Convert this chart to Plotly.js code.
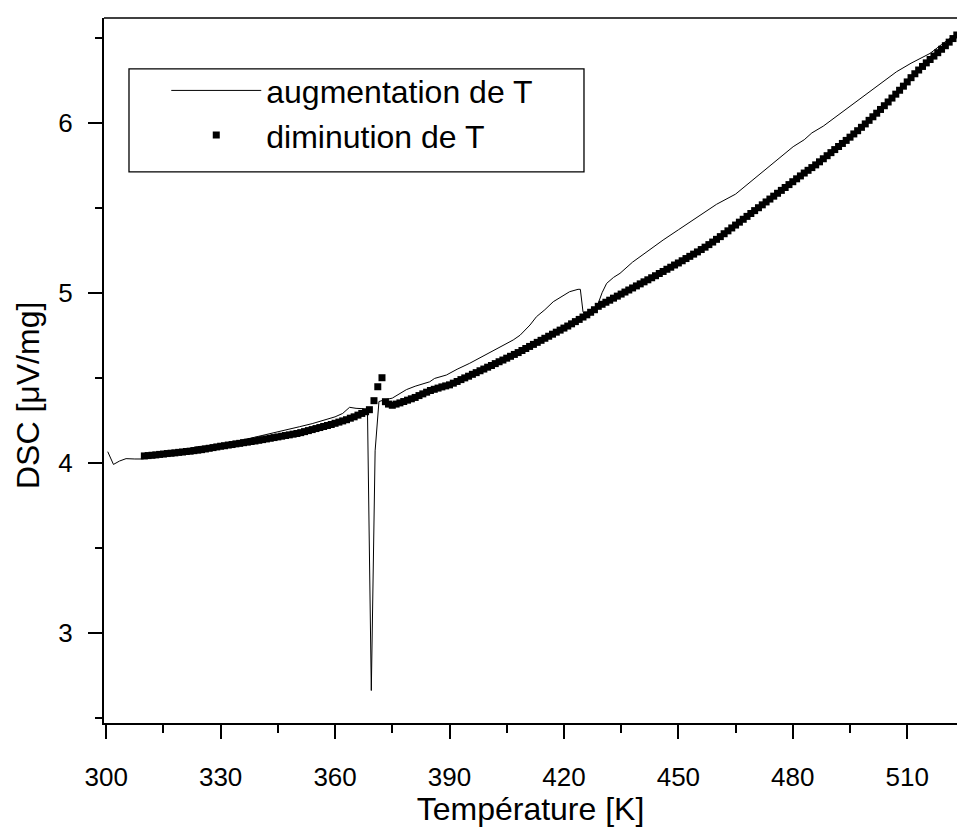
<!DOCTYPE html>
<html>
<head>
<meta charset="utf-8">
<script src="https://cdn.plot.ly/plotly-3.0.1.min.js"></script>
<style>html,body{margin:0;padding:0;background:#fff;overflow:hidden;}</style>
</head>
<body>
<div id="chart" style="width:957px;height:827px;"></div>
<script>
// Heating curve (augmentation de T)
const tempUp = [300.4,301.9,303.5,305.2,307.5,309.6,312,315,318.4,321,324,327,330,333,337.6,341,345,348,350.7,354,357,360,362,363.8,365.5,367.3,368.5,369.5,370.5,371.5,373,375,378.7,381,384.8,386.1,389.2,392,395.3,399,402.3,406.7,408.5,411.1,412.8,415,417.2,419.5,421.5,423.7,424.3,425,425.9,427,429,430,431.2,433,434.7,438,441.7,446,450,455.6,460,465,471.4,474.9,477,480.1,483,485,488,491,495,499,503,507.2,511,516,519,523];
const dscUp = [4.065,3.99,4.01,4.024,4.022,4.022,4.035,4.055,4.075,4.08,4.095,4.10,4.11,4.12,4.143,4.16,4.18,4.198,4.212,4.23,4.25,4.27,4.29,4.326,4.32,4.318,4.30,2.66,4.07,4.36,4.37,4.38,4.43,4.45,4.476,4.496,4.516,4.55,4.585,4.63,4.673,4.722,4.75,4.81,4.859,4.90,4.947,4.98,5.006,5.02,5.02,4.888,4.855,4.87,4.938,5.0,5.055,5.09,5.114,5.18,5.241,5.31,5.37,5.456,5.52,5.58,5.70,5.761,5.80,5.859,5.90,5.94,5.98,6.03,6.094,6.16,6.23,6.30,6.35,6.408,6.46,6.526];

// Cooling curve (diminution de T)
const tempDown = [310,311,312,313,314,315,316,317,318,319,320,321,322,323,324,325,326,327,328,329,330,331,332,333,334,335,336,337,338,339,340,341,342,343,344,345,346,347,348,349,350,351,352,353,354,355,356,357,358,359,360,361,362,363,364,365,366,367,368,369,370.2,371.2,372.3,373.2,374,375,376,377,378,379,380,381,382,383,384,385,386,387,388,389,390,391,392,393,394,395,396,397,398,399,400,401,402,403,404,405,406,407,408,409,410,411,412,413,414,415,416,417,418,419,420,421,422,423,424,425,426,427,428,429,430,431,432,433,434,435,436,437,438,439,440,441,442,443,444,445,446,447,448,449,450,451,452,453,454,455,456,457,458,459,460,461,462,463,464,465,466,467,468,469,470,471,472,473,474,475,476,477,478,479,480,481,482,483,484,485,486,487,488,489,490,491,492,493,494,495,496,497,498,499,500,501,502,503,504,505,506,507,508,509,510,511,512,513,514,515,516,517,518,519,520,521,522,523];
const dscDown = [4.040,4.042,4.044,4.046,4.049,4.051,4.054,4.056,4.058,4.061,4.063,4.066,4.068,4.071,4.074,4.077,4.081,4.085,4.089,4.093,4.097,4.100,4.104,4.107,4.111,4.114,4.118,4.121,4.125,4.128,4.132,4.136,4.140,4.144,4.148,4.152,4.156,4.160,4.164,4.168,4.172,4.177,4.183,4.189,4.195,4.201,4.207,4.213,4.219,4.225,4.232,4.239,4.246,4.253,4.262,4.270,4.280,4.290,4.300,4.312,4.365,4.447,4.500,4.359,4.345,4.338,4.345,4.352,4.360,4.368,4.376,4.384,4.395,4.405,4.415,4.425,4.432,4.439,4.446,4.452,4.458,4.468,4.478,4.489,4.499,4.509,4.520,4.530,4.541,4.551,4.562,4.572,4.583,4.594,4.604,4.615,4.626,4.637,4.648,4.660,4.672,4.684,4.696,4.708,4.720,4.732,4.744,4.756,4.768,4.780,4.792,4.804,4.817,4.830,4.843,4.857,4.870,4.885,4.900,4.920,4.932,4.944,4.956,4.968,4.980,4.992,5.004,5.016,5.028,5.040,5.052,5.064,5.076,5.088,5.100,5.113,5.125,5.138,5.150,5.163,5.175,5.188,5.201,5.214,5.227,5.240,5.254,5.268,5.283,5.298,5.314,5.330,5.347,5.364,5.381,5.398,5.415,5.432,5.449,5.466,5.483,5.500,5.517,5.534,5.551,5.568,5.585,5.602,5.619,5.636,5.653,5.670,5.687,5.704,5.720,5.736,5.752,5.770,5.788,5.806,5.824,5.842,5.860,5.878,5.896,5.915,5.934,5.953,5.973,5.993,6.014,6.035,6.056,6.078,6.100,6.122,6.145,6.168,6.191,6.215,6.240,6.265,6.288,6.310,6.331,6.352,6.372,6.392,6.412,6.432,6.453,6.474,6.495,6.516];

const seriesNames = ["augmentation de T", "diminution de T"];
const xTitle = "Température [K]";
const yTitle = "DSC [μV/mg]";

const FONT = "Liberation Sans, Arial, Helvetica, sans-serif";

const traces = [
  {
    x: tempUp, y: dscUp, name: seriesNames[0],
    type: "scatter", mode: "lines",
    line: {color: "#000", width: 1},
    cliponaxis: true
  },
  {
    x: tempDown, y: dscDown, name: seriesNames[1],
    type: "scatter", mode: "markers",
    marker: {symbol: "square", size: 7, color: "#000", line: {width: 0}},
    cliponaxis: true
  }
];

const layout = {
  width: 957, height: 827,
  margin: {l: 104, r: 0, t: 18, b: 104},
  paper_bgcolor: "#fff", plot_bgcolor: "#fff",
  font: {family: FONT, color: "#000", size: 26},
  showlegend: true,
  legend: {
    x: 0.073, y: 0.936, xanchor: "left", yanchor: "top",
    bgcolor: "rgba(0,0,0,0)", borderwidth: 0,
    font: {family: FONT, size: 32, color: "#000"},
    itemwidth: 90, tracegroupgap: 0
  },
  xaxis: {
    range: [299.42, 523.05],
    tick0: 300, dtick: 30,
    ticks: "outside", ticklen: 14, tickwidth: 2, tickcolor: "#000",
    minor: {dtick: 15, ticks: "outside", ticklen: 8, tickwidth: 2, tickcolor: "#000", showgrid: false},
    showline: true, linewidth: 2, linecolor: "#000", mirror: false,
    showgrid: false, zeroline: false,
    tickfont: {family: FONT, size: 26, color: "#000"},
    ticklabelstandoff: 16,
    title: {text: xTitle, font: {family: FONT, size: 32, color: "#000"}, standoff: 8},
    automargin: false
  },
  yaxis: {
    range: [2.469, 6.616],
    tick0: 3, dtick: 1,
    ticks: "outside", ticklen: 14, tickwidth: 2, tickcolor: "#000",
    minor: {dtick: 0.5, ticks: "outside", ticklen: 7, tickwidth: 2, tickcolor: "#000", showgrid: false},
    showline: true, linewidth: 2, linecolor: "#000",
    showgrid: false, zeroline: false,
    tickfont: {family: FONT, size: 26, color: "#000"},
    ticklabelstandoff: 10,
    automargin: false
  },
  annotations: [
    {text: yTitle, textangle: -90, xref: "paper", yref: "paper",
     x: -0.0891, y: 0.4652, xanchor: "center", yanchor: "middle",
     showarrow: false, font: {family: FONT, size: 32, color: "#000"}}
  ],
  shapes: [
    {type: "line", xref: "paper", yref: "paper", x0: 0, x1: 1, y0: 1, y1: 1,
     line: {color: "#000", width: 1.3}},
    {type: "rect", xref: "paper", yref: "paper",
     x0: 0.0293, x1: 0.5627, y0: 0.7816, y1: 0.9277,
     line: {color: "#000", width: 1.3}, fillcolor: "rgba(0,0,0,0)"}
  ]
};

Plotly.newPlot("chart", traces, layout, {displayModeBar: false, staticPlot: true});
</script>
</body>
</html>
